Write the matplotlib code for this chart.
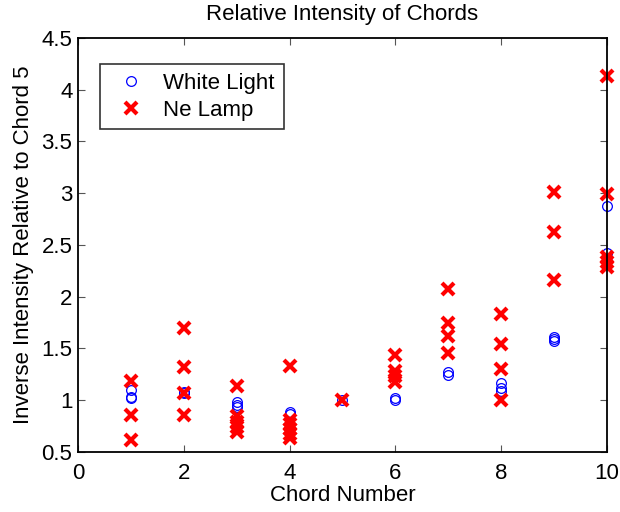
import numpy as np
import matplotlib.pyplot as plt

plt.rcParams['font.family'] = ['Liberation Sans', 'DejaVu Sans']

# chord number and inverse intensity (relative to chord 5) for each source
white_x = [1, 1, 1, 2, 2, 3, 3, 3, 4, 4, 5, 6, 6, 7, 7, 8, 8, 8, 9, 9, 9, 10, 10, 10]
white_y = [1.10, 1.03, 1.02, 1.08, 1.07, 0.98, 0.95, 0.93, 0.89, 0.87, 1.00,
           1.02, 1.00, 1.27, 1.24, 1.17, 1.12, 1.09, 1.61, 1.59, 1.57,
           2.88, 2.42, 2.35]

ne_x = [1, 1, 1, 2, 2, 2, 2, 3, 3, 3, 3, 3, 4, 4, 4, 4, 4, 4, 5,
        6, 6, 6, 6, 7, 7, 7, 7, 8, 8, 8, 8, 9, 9, 9, 10, 10, 10, 10, 10]
ne_y = [1.19, 0.86, 0.62, 1.70, 1.32, 1.07, 0.86, 1.14, 0.85, 0.79, 0.74, 0.69,
        1.33, 0.81, 0.77, 0.72, 0.67, 0.64, 1.00,
        1.44, 1.28, 1.23, 1.18, 2.07, 1.75, 1.62, 1.46, 1.83, 1.54, 1.30, 1.00,
        3.01, 2.63, 2.16, 4.13, 2.99, 2.38, 2.34, 2.29]

fs = 16

fig = plt.figure(figsize=(6.2, 5.12), dpi=100)
ax = fig.add_axes([0.1258, 0.1172, 0.853, 0.8086])

ax.plot(white_x, white_y, 'o', color='blue', mfc='none', markersize=7,
        markeredgewidth=0.9, label='White Light', clip_on=False)
ax.plot(ne_x, ne_y, 'x', color='red', markersize=9, markeredgewidth=3,
        label='Ne Lamp', clip_on=False)

ax.set_xlim(0, 10)
ax.set_ylim(0.5, 4.5)
ax.set_xticks(np.arange(0, 11, 2))
ax.set_yticks(np.arange(0.5, 4.6, 0.5))
ax.set_yticklabels(['0.5', '1', '1.5', '2', '2.5', '3', '3.5', '4', '4.5'])
ax.tick_params(direction='in', top=True, right=True, labelsize=fs, length=5,
               width=0.8, color='#555555')
ax.tick_params(axis='x', pad=8)
ax.tick_params(axis='y', pad=4)
for s in ax.spines.values():
    s.set_linewidth(1.3)

ax.set_xlabel('Chord Number', fontsize=fs, labelpad=1)
ax.set_ylabel('Inverse Intensity Relative to Chord 5', fontsize=fs, labelpad=5)
ax.set_title('Relative Intensity of Chords', fontsize=fs, pad=13)

leg = ax.legend(loc='upper left', bbox_to_anchor=(0.0416, 0.937),
                borderaxespad=0, fontsize=fs, frameon=True, fancybox=False,
                edgecolor='black', borderpad=0.4, handletextpad=0.45,
                labelspacing=0.25, handlelength=2.0)
leg.get_frame().set_linewidth(1.2)

fig.savefig('out.png', dpi=100)
